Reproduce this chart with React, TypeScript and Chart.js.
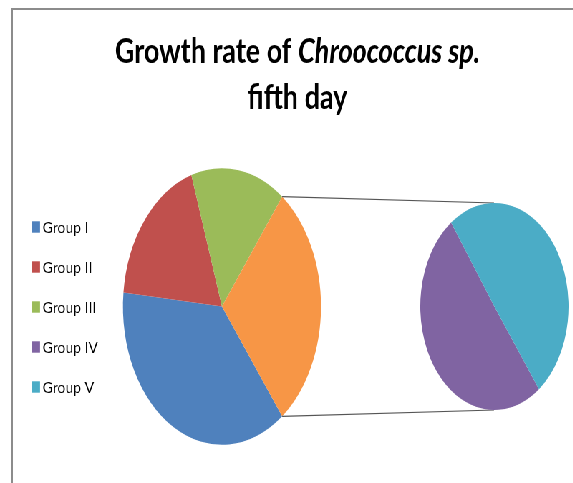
import React, { useEffect, useRef } from "react";
import { Chart, registerables } from "chart.js";

Chart.register(...registerables);

// ---- data ----
const groupLabels = ["Group I", "Group II", "Group III", "Group IV", "Group V"];
const groupValues = [0.37, 0.184, 0.154, 0.147, 0.145];
const groupColors = ["#4F81BD", "#C0504D", "#9BBB59", "#8064A2", "#4BACC6"];
const otherLabel = "Other";
const otherColor = "#F79646";
const splitIndex = 3; // Group IV and Group V go to the secondary pie
const titleNormal = "Growth rate of ";
const titleItalic = "Chroococcus sp.";
const titleLine2 = "fifth day";

// ---- layout (unsquished coordinates) ----
const SX = 0.716;
const W = 800;
const H = 483;
const MAIN_CX = 310;
const MAIN_CY = 306.5;
const MAIN_R = 138.3;
const SEC_CX = 690;
const SEC_CY = 306.5;
const SEC_R = 103.5;

export default function App() {
  const mainRef = useRef<HTMLCanvasElement | null>(null);
  const secRef = useRef<HTMLCanvasElement | null>(null);

  useEffect(() => {
    const mainLabels = [...groupLabels.slice(0, splitIndex), otherLabel];
    const secValues = groupValues.slice(splitIndex);
    const otherValue = secValues.reduce((a, b) => a + b, 0);
    const mainValues = [...groupValues.slice(0, splitIndex), otherValue];
    const total = mainValues.reduce((a, b) => a + b, 0);
    const otherDeg = (otherValue / total) * 360;
    const mainRotation = 90 + otherDeg / 2;

    const overlay = {
      id: "overlay",
      afterDraw(chart: any) {
        const ctx = chart.ctx as CanvasRenderingContext2D;
        // connector lines
        const arc = chart.getDatasetMeta(0).data[splitIndex] as any;
        const p = arc.getProps(["x", "y", "startAngle", "endAngle", "outerRadius"], true);
        ctx.save();
        ctx.strokeStyle = "#555";
        ctx.lineWidth = 1.2;
        ctx.beginPath();
        ctx.moveTo(p.x + p.outerRadius * Math.cos(p.startAngle), p.y + p.outerRadius * Math.sin(p.startAngle));
        ctx.lineTo(SEC_CX, SEC_CY - SEC_R);
        ctx.moveTo(p.x + p.outerRadius * Math.cos(p.endAngle), p.y + p.outerRadius * Math.sin(p.endAngle));
        ctx.lineTo(SEC_CX, SEC_CY + SEC_R);
        ctx.stroke();
        ctx.restore();

        // title
        ctx.save();
        ctx.fillStyle = "#000";
        ctx.textBaseline = "alphabetic";
        const fN = "bold 35px Lato";
        const fI = "italic bold 35px Lato";
        ctx.font = fN;
        const wA = ctx.measureText(titleNormal).width;
        ctx.font = fI;
        const wB = ctx.measureText(titleItalic).width;
        const target1 = 510;
        const k = target1 / (wA + wB);
        const tcx = 415.5;
        ctx.save();
        ctx.translate(tcx - target1 / 2, 63);
        ctx.scale(k, 1);
        ctx.font = fN;
        ctx.fillText(titleNormal, 0, 0);
        ctx.font = fI;
        ctx.fillText(titleItalic, wA, 0);
        ctx.restore();
        ctx.font = fN;
        const w2 = ctx.measureText(titleLine2).width * k;
        ctx.save();
        ctx.translate(tcx - w2 / 2, 109);
        ctx.scale(k, 1);
        ctx.fillText(titleLine2, 0, 0);
        ctx.restore();
        ctx.restore();

        // legend
        ctx.save();
        ctx.font = "15.5px Lato";
        ctx.textBaseline = "alphabetic";
        const kl = 64 / ctx.measureText(groupLabels[0]).width;
        groupLabels.forEach((lab, i) => {
          const y = 221.3 + 40 * i;
          ctx.fillStyle = groupColors[i];
          ctx.fillRect(44.7, y, 11.2, 11.4);
          ctx.fillStyle = "#000";
          ctx.save();
          ctx.translate(59.6, y + 11.8);
          ctx.scale(kl, 1);
          ctx.fillText(lab, 0, 0);
          ctx.restore();
        });
        ctx.restore();
      },
    };

    const mainChart = new Chart(mainRef.current as HTMLCanvasElement, {
      type: "pie",
      data: {
        labels: mainLabels,
        datasets: [
          {
            data: mainValues,
            backgroundColor: [...groupColors.slice(0, splitIndex), otherColor],
            borderWidth: 0,
          },
        ],
      },
      options: {
        responsive: false,
        animation: false,
        devicePixelRatio: 1,
        rotation: mainRotation,
        radius: MAIN_R,
        layout: {
          padding: {
            left: MAIN_CX - MAIN_R,
            right: W - (MAIN_CX + MAIN_R),
            top: MAIN_CY - MAIN_R,
            bottom: H - (MAIN_CY + MAIN_R),
          },
        },
        plugins: {
          legend: { display: false },
          title: { display: false },
          tooltip: { enabled: false },
        },
      } as any,
      plugins: [overlay],
    });

    const secChart = new Chart(secRef.current as HTMLCanvasElement, {
      type: "pie",
      data: {
        labels: groupLabels.slice(splitIndex),
        datasets: [
          {
            data: secValues,
            backgroundColor: groupColors.slice(splitIndex),
            borderWidth: 0,
          },
        ],
      },
      options: {
        responsive: false,
        animation: false,
        devicePixelRatio: 1,
        rotation: 143,
        radius: SEC_R,
        plugins: {
          legend: { display: false },
          title: { display: false },
          tooltip: { enabled: false },
        },
      } as any,
    });

    return () => {
      mainChart.destroy();
      secChart.destroy();
    };
  }, []);

  const secSize = SEC_R * 2;
  return (
    <div
      style={{
        position: "fixed",
        left: 0,
        top: 0,
        width: 573,
        height: 483,
        overflow: "hidden",
        background: "#fff",
      }}
    >
      <div
        style={{
          position: "absolute",
          left: 0,
          top: 0,
          width: W,
          height: H,
          transform: `scaleX(${SX})`,
          transformOrigin: "0 0",
        }}
      >
        <canvas
          ref={mainRef}
          width={W}
          height={H}
          style={{ position: "absolute", left: 0, top: 0, width: W, height: H }}
        />
        <canvas
          ref={secRef}
          width={secSize}
          height={secSize}
          style={{
            position: "absolute",
            left: SEC_CX - SEC_R,
            top: SEC_CY - SEC_R,
            width: secSize,
            height: secSize,
          }}
        />
      </div>
      <div
        style={{
          position: "absolute",
          left: 11,
          top: 8,
          width: 600,
          height: 500,
          borderLeft: "2px solid #8c8c8c",
          borderTop: "2px solid #8c8c8c",
          boxSizing: "border-box",
          pointerEvents: "none",
        }}
      />
    </div>
  );
}
